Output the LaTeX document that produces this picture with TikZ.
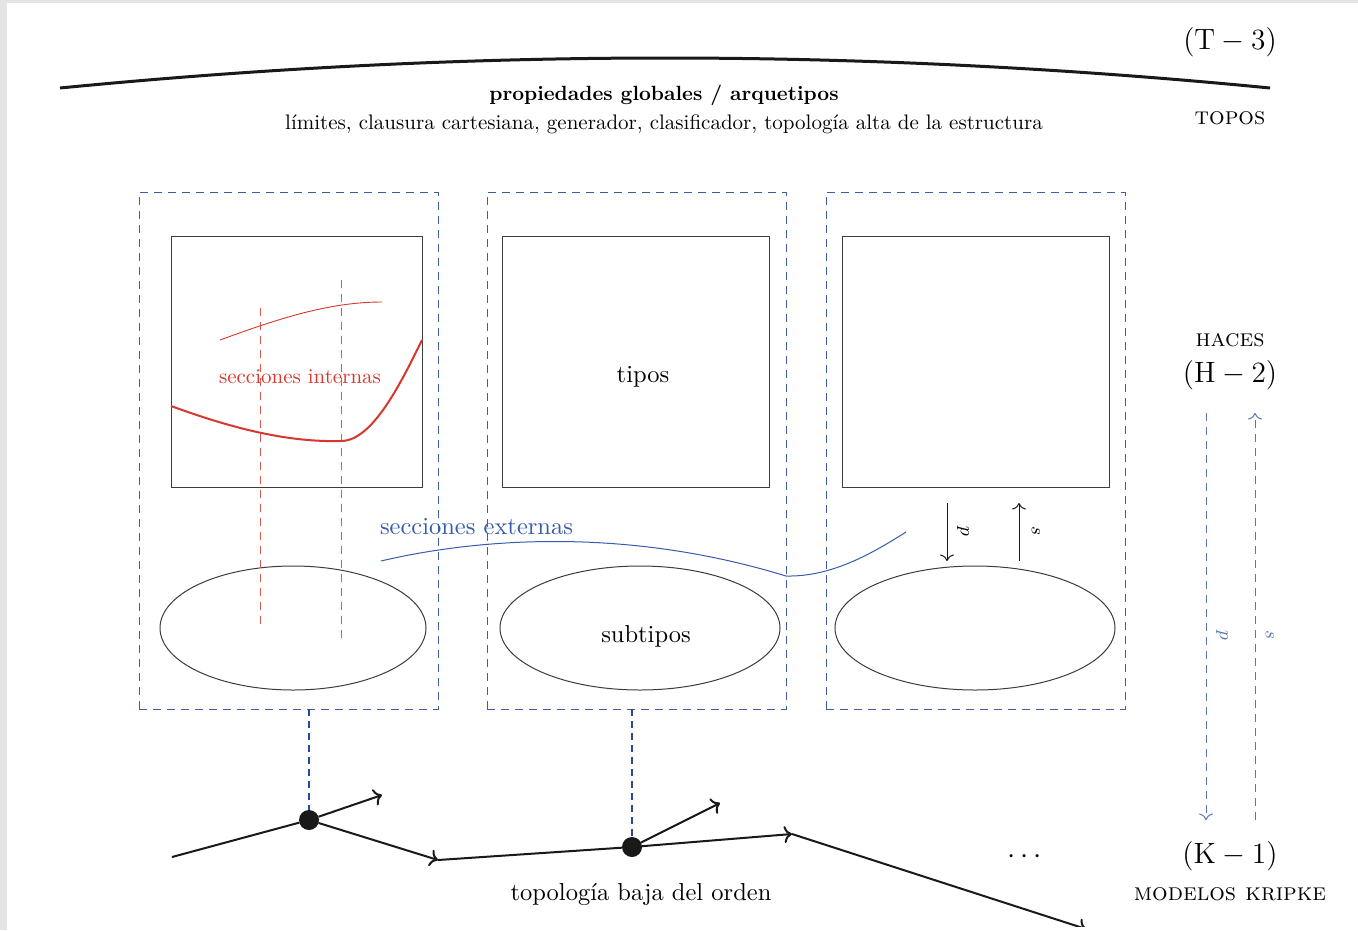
\documentclass[tikz,border=0pt]{standalone}
\usetikzlibrary{shapes.geometric,arrows.meta}
\definecolor{pagegray}{RGB}{228,228,228}
\definecolor{ink}{RGB}{25,25,25}
\definecolor{framegray}{RGB}{60,60,60}
\definecolor{boxblue}{RGB}{62,92,160}
\definecolor{linkblue}{RGB}{40,72,160}
\definecolor{arrowblue}{RGB}{88,118,180}
\definecolor{curveblue}{RGB}{55,92,170}
\definecolor{secred}{RGB}{215,55,45}
% small text, body text and level labels
\newcommand{\zs}[1]{\scalebox{2.1}{#1}}
\newcommand{\zb}[1]{\scalebox{2.45}{#1}}
\tikzset{
  every node/.style={inner sep=0pt, outer sep=0pt},
  dbox/.style={draw=boxblue, line width=1pt, dash pattern=on 8pt off 6pt},
  innerbox/.style={draw=framegray, line width=1pt},
  base/.style={draw=framegray, line width=1pt, ellipse},
  graphline/.style={draw=ink, line width=2pt},
  graphtip/.style={-{To[length=8pt,width=17pt]}},
  thintip/.style={-{To[length=6.5pt,width=14pt]}},
  vertexdot/.style={circle, fill=ink, minimum width=20pt, minimum height=18pt},
  reddash/.style={draw=secred!85, line width=1pt, dash pattern=on 8pt off 6pt},
  linkdash/.style={draw=linkblue, line width=2.4pt, dash pattern=on 7pt off 5pt},
  sidearrow/.style={draw=arrowblue, line width=1pt, dash pattern=on 8pt off 6pt, thintip},
}
\begin{document}
\begin{tikzpicture}[x=1pt,y=-1pt]
\useasboundingbox (0,0) rectangle (1358,930);
\fill[pagegray] (0,0) rectangle (1358,930);
\fill[white] (7,3) rectangle (1358,930);
\begin{scope}
\clip (7,3) rectangle (1358,926);

% top level: the topos
\coordinate (arcL) at (60,88);
\coordinate (arcR) at (1270,88);
\draw[ink, line width=3pt] (arcL) .. controls (470,48) and (860,48) .. (arcR);
\node (t3) at (1230,42) {\zb{\large$(\mathrm{T}-3)$}};
\node (topos) at (1230,118) {\zb{\textsc{topos}}};
\node (prop) at (664,95) {\scalebox{2.06}{\textbf{propiedades globales / arquetipos}}};
\node (lim) at (664,124) {\zs{límites, clausura cartesiana, generador, clasificador, topología alta de la estructura}};

% middle level: three sheaf blocks
\node[dbox, minimum width=299pt, minimum height=517pt] (b1) at (288.5,450.5) {};
\node[dbox, minimum width=299pt, minimum height=517pt] (b2) at (636.5,450.5) {};
\node[dbox, minimum width=299pt, minimum height=517pt] (b3) at (975.5,450.5) {};

\node[innerbox, minimum width=251pt, minimum height=251pt] (r1) at (296.5,361.5) {};
\node[innerbox, minimum width=267pt, minimum height=251pt] (r2) at (635.5,361.5) {};
\node[innerbox, minimum width=267pt, minimum height=251pt] (r3) at (975.5,361.5) {};

\node[base, minimum width=266pt, minimum height=124pt] (e1) at (293,628) {};
\node[base, minimum width=280pt, minimum height=124pt] (e2) at (640,628) {};
\node[base, minimum width=280pt, minimum height=124pt] (e3) at (975,628) {};

\node (tipos) at (643,377) {\zb{tipos}};
\node (subtipos) at (646,636) {\zb{subtipos}};

% internal sections (red)
\coordinate (v1t) at (260,308); \coordinate (v1b) at (260,628);
\coordinate (v2t) at (341,280); \coordinate (v2b) at (341,642);
\draw[reddash] (v1t) -- (v1b);
\draw[reddash] (v2t) -- (v2b);
\coordinate (c1a) at (220,340); \coordinate (c1b) at (382,302);
\draw[secred, line width=0.9pt] (c1a) .. controls (280,318) and (330,302) .. (c1b);
\coordinate (c2a) at (171,406); \coordinate (c2m) at (341,441); \coordinate (c2b) at (422,340);
\draw[secred, line width=2pt] (c2a) .. controls (250,435) and (300,442) .. (c2m)
  .. controls (372,441) and (400,385) .. (c2b);
\node[text=secred] (secint) at (300,377) {\zs{secciones internas}};

% external section (blue)
\coordinate (s0) at (381,561); \coordinate (s1) at (786,576); \coordinate (s2) at (906,532);
\draw[curveblue, line width=1pt] (s0) .. controls (470,540) and (620,525) .. (s1)
  .. controls (830,577) and (870,555) .. (s2);
\node[text=curveblue, anchor=west] (secext) at (380,527) {\zb{secciones externas}};

% projection and section inside the third block
\coordinate (pt) at (947,503); \coordinate (pb) at (947,561);
\coordinate (st) at (1019,503); \coordinate (sb) at (1019,561);
\draw[ink, line width=1pt, thintip] (pt) -- (pb);
\draw[ink, line width=1pt, thintip] (sb) -- (st);
\node[rotate=-90] (plab) at (963,531) {\zs{\small$p$}};
\node[rotate=-90] (slab) at (1036,531) {\zs{\small$s$}};

% right column labels and arrows
\node (haces) at (1230,340) {\zb{\textsc{haces}}};
\node (h2) at (1230,375) {\zb{\large$(\mathrm{H}-2)$}};
\node (k1) at (1230,856) {\zb{\large$(\mathrm{K}-1)$}};
\node (kripke) at (1230,894) {\zb{\textsc{modelos kripke}}};
\coordinate (ptop) at (1206,413); \coordinate (pbot) at (1206,820);
\coordinate (stop) at (1255,413); \coordinate (sbot) at (1255,820);
\draw[sidearrow] (ptop) -- (pbot);
\draw[sidearrow] (sbot) -- (stop);
\node[rotate=-90, text=arrowblue] (plab2) at (1222,635) {\zs{\small$p$}};
\node[rotate=-90, text=arrowblue] (slab2) at (1270,635) {\zs{\small$s$}};

% bottom level: Kripke frame
\node[vertexdot] (d1) at (309,820) {};
\node[vertexdot] (d2) at (632,847) {};
\draw[linkdash] (b1.south -| d1) -- (d1);
\draw[linkdash] (b2.south -| d2) -- (d2);
\coordinate (a0) at (172,857);
\coordinate (a1) at (382,795);
\coordinate (a2) at (438,860);
\coordinate (a3) at (720,803);
\coordinate (a4) at (792,834);
\coordinate (a5) at (1086,929);
\draw[graphline] (a0) -- (d1);
\draw[graphline, graphtip] (d1) -- (a1);
\draw[graphline, graphtip] (d1) -- (a2);
\draw[graphline] (a2) -- (d2);
\draw[graphline, graphtip] (d2) -- (a3);
\draw[graphline, graphtip] (d2) -- (a4);
\draw[graphline, graphtip] (a4) -- (a5);
\node (dots) at (1025,857) {\zb{\large$\cdots$}};
\node (tbo) at (641,894) {\zb{topología baja del orden}};
\end{scope}
\end{tikzpicture}
\end{document}
